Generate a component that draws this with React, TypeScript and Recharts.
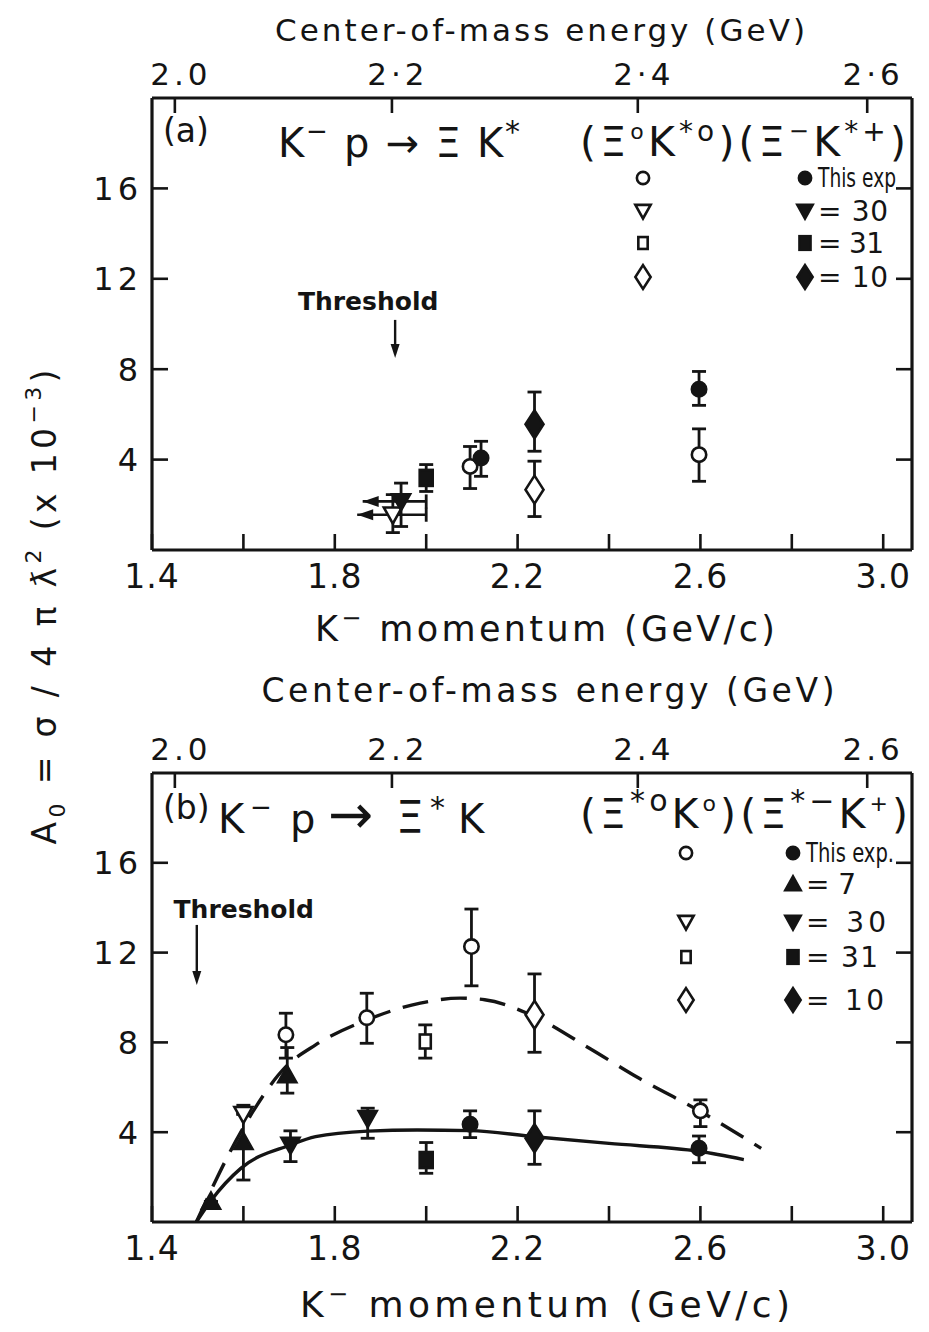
import React from 'react'
import {
  ComposedChart,
  Scatter,
  Line,
  XAxis,
  YAxis,
  ErrorBar,
  ReferenceDot,
  ReferenceLine,
} from 'recharts'

const FONT = '"DejaVu Sans", Verdana, sans-serif'
const INK = '#141414'

// K- beam momentum axis (GeV/c)
const momentumTicks = [1.4, 1.6, 1.8, 2.0, 2.2, 2.4, 2.6, 2.8, 3.0]
const momentumLabelled = [1.4, 1.8, 2.2, 2.6, 3.0]
const momentumDomain = [1.4, 3.063]

// A0 axis, in units of 1e-3
const ampTicks = [4, 8, 12, 16]
const ampDomain = [0, 20]

// centre-of-mass energy scale along the top, placed at the matching momentum
const energyTickMomenta = [1.45, 1.925, 2.463, 2.965]
const energyLabelsA = ['2.0', '2·2', '2·4', '2·6']
const energyLabelsB = ['2.0', '2.2', '2.4', '2.6']

type Pt = { p: number; a: number; lo?: number; hi?: number }
type Kind = 'circle' | 'down' | 'up' | 'square' | 'diamond'

// ---- (a) K- p -> Xi K* ----
// open symbols: Xi0 K*0, filled symbols: Xi- K*+
const aXi0ThisExp: Pt[] = [
  { p: 2.096, a: 3.7, lo: 2.72, hi: 4.58 },
  { p: 2.597, a: 4.22, lo: 3.04, hi: 5.36 },
]
const aXi0Ref30: Pt[] = [{ p: 1.927, a: 1.56, lo: 0.77, hi: 2.45 }]
const aXi0Ref10: Pt[] = [{ p: 2.237, a: 2.67, lo: 1.48, hi: 3.93 }]
const aXimThisExp: Pt[] = [
  { p: 2.12, a: 4.07, lo: 3.26, hi: 4.81 },
  { p: 2.597, a: 7.11, lo: 6.4, hi: 7.9 },
]
const aXimRef30: Pt[] = [{ p: 1.945, a: 2.15, lo: 1.04, hi: 2.96 }]
const aXimRef31: Pt[] = [{ p: 2.0, a: 3.19, lo: 2.59, hi: 3.78 }]
const aXimRef10: Pt[] = [{ p: 2.237, a: 5.56, lo: 4.37, hi: 6.99 }]
// momentum spread of the ref. 30 points (arrow = open towards low momentum)
const aRef30Spread = [
  { a: 2.15, from: 1.861, to: 2.0 },
  { a: 1.56, from: 1.849, to: 2.0 },
]
const aThreshold = { p: 1.932, a: 8.5 }

// ---- (b) K- p -> Xi* K ----
// open symbols: Xi*0 K0, filled symbols: Xi*- K+
const bXi0ThisExp: Pt[] = [
  { p: 1.693, a: 8.34, lo: 7.3, hi: 9.3 },
  { p: 1.87, a: 9.1, lo: 7.96, hi: 10.19 },
  { p: 2.099, a: 12.27, lo: 10.52, hi: 13.94 },
  { p: 2.6, a: 4.95, lo: 4.25, hi: 5.44 },
]
const bXi0Ref30: Pt[] = [{ p: 1.6, a: 4.8 }]
const bXi0Ref31: Pt[] = [{ p: 1.998, a: 8.04, lo: 7.3, hi: 8.78 }]
const bXi0Ref10: Pt[] = [{ p: 2.237, a: 9.23, lo: 7.56, hi: 11.05 }]
const bXimThisExp: Pt[] = [
  { p: 2.096, a: 4.35, lo: 3.76, hi: 4.95 },
  { p: 2.597, a: 3.28, lo: 2.64, hi: 3.83 },
]
const bXimRef7: Pt[] = [
  { p: 1.529, a: 0.91 },
  { p: 1.6, a: 3.58, lo: 1.87, hi: 5.2 },
  { p: 1.696, a: 6.55, lo: 5.74, hi: 7.77 },
]
const bXimRef30: Pt[] = [
  { p: 1.703, a: 3.43, lo: 2.69, hi: 4.06 },
  { p: 1.872, a: 4.62, lo: 3.73, hi: 5.07 },
]
const bXimRef31: Pt[] = [{ p: 2.0, a: 2.76, lo: 2.17, hi: 3.54 }]
const bXimRef10: Pt[] = [{ p: 2.237, a: 3.73, lo: 2.57, hi: 4.95 }]
// model curves
const bSolidCurve = [
  { p: 1.497, a: 0 },
  { p: 1.529, a: 0.95 },
  { p: 1.595, a: 2.4 },
  { p: 1.703, a: 3.43 },
  { p: 1.758, a: 3.8 },
  { p: 1.872, a: 4.05 },
  { p: 1.98, a: 4.1 },
  { p: 2.096, a: 4.07 },
  { p: 2.237, a: 3.8 },
  { p: 2.4, a: 3.5 },
  { p: 2.597, a: 3.15 },
  { p: 2.695, a: 2.78 },
]
const bDashedCurve = [
  { p: 1.497, a: 0 },
  { p: 1.595, a: 4.03 },
  { p: 1.693, a: 6.92 },
  { p: 1.758, a: 7.89 },
  { p: 1.87, a: 9.0 },
  { p: 1.987, a: 9.75 },
  { p: 2.074, a: 9.97 },
  { p: 2.128, a: 9.9 },
  { p: 2.237, a: 9.15 },
  { p: 2.357, a: 7.74 },
  { p: 2.466, a: 6.4 },
  { p: 2.6, a: 4.92 },
  { p: 2.733, a: 3.28 },
]
const bThreshold = { p: 1.498, a: 10.56 }

const withErr = (pts: Pt[]) =>
  pts.map((d) => ({
    ...d,
    err: [d.lo != null ? d.a - d.lo : 0, d.hi != null ? d.hi - d.a : 0],
  }))

const Marker = ({ cx, cy, kind, filled, s = 1 }: any) => {
  if (cx == null || cy == null) return null
  const fill = filled ? INK : '#fff'
  const st = { fill, stroke: INK, strokeWidth: 2.6 }
  switch (kind as Kind) {
    case 'circle':
      return <circle cx={cx} cy={cy} r={7.2 * s} {...st} />
    case 'down': {
      const w = 9 * s
      const h = 16 * s
      return <polygon points={`${cx - w},${cy - h * 0.45} ${cx + w},${cy - h * 0.45} ${cx},${cy + h * 0.55}`} {...st} />
    }
    case 'up': {
      const w = 9 * s
      const h = 16 * s
      return <polygon points={`${cx - w},${cy + h * 0.45} ${cx + w},${cy + h * 0.45} ${cx},${cy - h * 0.55}`} {...st} />
    }
    case 'square':
      return filled ? (
        <rect x={cx - 6.5 * s} y={cy - 8 * s} width={13 * s} height={16 * s} {...st} />
      ) : (
        <rect x={cx - 5.5 * s} y={cy - 7 * s} width={11 * s} height={14 * s} {...st} />
      )
    case 'diamond': {
      const w = 9 * s
      const h = 14 * s
      return <polygon points={`${cx},${cy - h} ${cx + w},${cy} ${cx},${cy + h} ${cx - w},${cy}`} {...st} />
    }
  }
  return null
}

const series = (data: Pt[], kind: Kind, filled: boolean, key: string, xAxisId: string | number = 0) => (
  <Scatter
    key={key}
    xAxisId={xAxisId}
    data={withErr(data)}
    dataKey="a"
    isAnimationActive={false}
    shape={(p: any) => <Marker cx={p.cx} cy={p.cy} kind={kind} filled={filled} />}
  >
    <ErrorBar dataKey="err" direction="y" width={7} stroke={INK} strokeWidth={2.8} />
  </Scatter>
)

// ticks point into the frame, labels sit outside
const BottomTick = ({ x, y, payload }: any) => {
  const v = payload.value
  const show = momentumLabelled.some((m) => Math.abs(m - v) < 1e-6)
  return (
    <g>
      <line x1={x} y1={y} x2={x} y2={y - 16} stroke={INK} strokeWidth={2.6} />
      {show && (
        <text x={x} y={y + 38} textAnchor="middle" fontSize={33} fontFamily={FONT} fill={INK} letterSpacing={1}>
          {v.toFixed(1)}
        </text>
      )}
    </g>
  )
}

const TopTick = ({ x, y, index, labels }: any) => (
  <g>
    <line x1={x} y1={y} x2={x} y2={y + 15} stroke={INK} strokeWidth={2.6} />
    <text x={x + 6} y={y - 13} textAnchor="middle" fontSize={31} fontFamily={FONT} fill={INK} letterSpacing={4}>
      {labels[index]}
    </text>
  </g>
)

const LeftTick = ({ x, y, payload }: any) => (
  <g>
    <line x1={x} y1={y} x2={x + 16} y2={y} stroke={INK} strokeWidth={2.6} />
    <text x={x - 10} y={y} dy="0.36em" textAnchor="end" fontSize={32} fontFamily={FONT} fill={INK} letterSpacing={4}>
      {payload.value}
    </text>
  </g>
)

const RightTick = ({ x, y }: any) => (
  <line x1={x} y1={y} x2={x - 16} y2={y} stroke={INK} strokeWidth={2.6} />
)

const Threshold = ({ cx, cy, len, textDx, textUp }: any) => (
  <g>
    <line x1={cx} y1={cy - len} x2={cx} y2={cy - 10} stroke={INK} strokeWidth={2.4} />
    <polygon points={`${cx - 4.5},${cy - 14} ${cx + 4.5},${cy - 14} ${cx},${cy}`} fill={INK} />
    <text x={cx + textDx} y={cy - textUp} textAnchor="middle" fontSize={25} fontWeight={600} fontFamily={FONT} fill={INK}>
      Threshold
    </text>
  </g>
)

const axes = (energyLabels: string[]) => (
  <>
    <XAxis
      dataKey="p"
      type="number"
      domain={momentumDomain}
      allowDataOverflow
      ticks={momentumTicks}
      interval={0}
      height={30}
      tickSize={0}
      tickMargin={0}
      tickLine={false}
      axisLine={{ stroke: INK, strokeWidth: 3.2 }}
      tick={<BottomTick />}
    />
    <XAxis
      xAxisId="top"
      orientation="top"
      dataKey="p"
      type="number"
      domain={momentumDomain}
      allowDataOverflow
      ticks={energyTickMomenta}
      interval={0}
      height={30}
      tickSize={0}
      tickMargin={0}
      tickLine={false}
      axisLine={{ stroke: INK, strokeWidth: 3.2 }}
      tick={<TopTick labels={energyLabels} />}
    />
    <YAxis
      dataKey="a"
      type="number"
      domain={ampDomain}
      allowDataOverflow
      ticks={ampTicks}
      interval={0}
      width={60}
      tickSize={0}
      tickMargin={0}
      tickLine={false}
      axisLine={{ stroke: INK, strokeWidth: 3.2 }}
      tick={<LeftTick />}
    />
    <YAxis
      yAxisId="r"
      orientation="right"
      type="number"
      domain={ampDomain}
      allowDataOverflow
      ticks={ampTicks}
      interval={0}
      width={8}
      tickSize={0}
      tickMargin={0}
      tickLine={false}
      axisLine={{ stroke: INK, strokeWidth: 3.2 }}
      tick={<RightTick />}
    />
  </>
)

const PanelA = () => (
  <ComposedChart width={913} height={660} margin={{ top: 60, right: 1, bottom: 88, left: 84 }}>
    {axes(energyLabelsA)}
    <ReferenceDot
      x={aThreshold.p}
      y={aThreshold.a}
      ifOverflow="visible"
      shape={(p: any) => <Threshold cx={p.cx} cy={p.cy} len={38} textDx={-27} textUp={48} />}
    />
    {aRef30Spread.map((s, i) => (
      <ReferenceLine
        key={`sl${i}`}
        segment={[
          { x: s.from, y: s.a },
          { x: s.to, y: s.a },
        ]}
        stroke={INK}
        strokeWidth={2.6}
      />
    ))}
    {aRef30Spread.map((s, i) => (
      <ReferenceDot
        key={`sh${i}`}
        x={s.from}
        y={s.a}
        shape={(p: any) => (
          <polygon points={`${p.cx},${p.cy} ${p.cx + 16},${p.cy - 5.5} ${p.cx + 16},${p.cy + 5.5}`} fill={INK} />
        )}
      />
    ))}
    {aRef30Spread.map((s, i) => (
      <ReferenceDot
        key={`sc${i}`}
        x={s.to}
        y={s.a}
        shape={(p: any) => <line x1={p.cx} y1={p.cy - 7} x2={p.cx} y2={p.cy + 7} stroke={INK} strokeWidth={2.8} />}
      />
    ))}
    {series(aXi0Ref30, 'down', false, 'a1')}
    {series(aXimRef30, 'down', true, 'a2')}
    {series(aXimRef31, 'square', true, 'a3')}
    {series(aXi0ThisExp, 'circle', false, 'a4')}
    {series(aXimThisExp, 'circle', true, 'a5')}
    {series(aXimRef10, 'diamond', true, 'a6')}
    {series(aXi0Ref10, 'diamond', false, 'a7', 'top')}
  </ComposedChart>
)

const PanelB = () => (
  <ComposedChart width={913} height={640} margin={{ top: 65, right: 1, bottom: 66, left: 84 }}>
    {axes(energyLabelsB)}
    <ReferenceDot
      x={bThreshold.p}
      y={bThreshold.a}
      ifOverflow="visible"
      shape={(p: any) => <Threshold cx={p.cx} cy={p.cy} len={60} textDx={47} textUp={67} />}
    />
    <Line data={bDashedCurve} dataKey="a" type="monotone" dot={false} stroke={INK} strokeWidth={3.4} strokeDasharray="26 13" isAnimationActive={false} />
    <Line data={bSolidCurve} dataKey="a" type="monotone" dot={false} stroke={INK} strokeWidth={3.4} isAnimationActive={false} />
    {series(bXi0Ref30, 'down', false, 'b0')}
    {series(bXimRef7, 'up', true, 'b1')}
    {series(bXimRef30, 'down', true, 'b2')}
    {series(bXimRef31, 'square', true, 'b3')}
    {series(bXi0Ref31, 'square', false, 'b4')}
    {series(bXi0ThisExp, 'circle', false, 'b5')}
    {series(bXimThisExp, 'circle', true, 'b6')}
    {series(bXi0Ref10, 'diamond', false, 'b7', 'top')}
    {series(bXimRef10, 'diamond', true, 'b8')}
  </ComposedChart>
)

// legend rows: [open symbol or null, filled symbol, label, label width]
const legendRowsA: [Kind | null, Kind, string, number][] = [
  ['circle', 'circle', 'This exp', 78],
  ['down', 'down', '= 30', 70],
  ['square', 'square', '= 31', 66],
  ['diamond', 'diamond', '= 10', 70],
]
const legendRowsB: [Kind | null, Kind, string, number][] = [
  ['circle', 'circle', 'This exp.', 88],
  [null, 'up', '= 7', 50],
  ['down', 'down', '= 30', 80],
  ['square', 'square', '= 31', 72],
  ['diamond', 'diamond', '= 10', 78],
]

const LegendBlock = ({ rows, ys, xOpen, xFilled }: any) => (
  <g>
    {rows.map((r: any, i: number) => (
      <g key={i}>
        {r[0] && <Marker cx={xOpen} cy={ys[i]} kind={r[0]} filled={false} s={0.85} />}
        <Marker cx={xFilled} cy={ys[i]} kind={r[1]} filled s={0.85} />
        <text
          x={xFilled + 13}
          y={ys[i]}
          dy="0.36em"
          fontSize={r[2].startsWith('=') ? 28 : 26}
          fontFamily={FONT}
          fill={INK}
          textLength={r[3]}
          lengthAdjust={r[2].startsWith('=') ? 'spacing' : 'spacingAndGlyphs'}
        >
          {r[2]}
        </text>
      </g>
    ))}
  </g>
)

const Annotations = () => (
  <svg
    width={913}
    height={1316}
    style={{ position: 'absolute', left: 0, top: 0, pointerEvents: 'none', overflow: 'visible' }}
  >
    <g transform="translate(-8 -8)" fontFamily={FONT} fill={INK} style={{ whiteSpace: 'pre' }}>
      {/* axis titles */}
      <text x={540} y={41} textAnchor="middle" fontSize={31} textLength={530} lengthAdjust="spacing">
        Center-of-mass  energy  (GeV)
      </text>
      <text x={545} y={641} textAnchor="middle" fontSize={35} textLength={460} lengthAdjust="spacing">
        K<tspan dy={-15} fontSize={24}>−</tspan>
        <tspan dy={15}>  momentum  (GeV/c)</tspan>
      </text>
      <text x={548} y={702} textAnchor="middle" fontSize={33} textLength={573} lengthAdjust="spacing">
        Center-of-mass  energy  (GeV)
      </text>
      <text x={545} y={1317} textAnchor="middle" fontSize={36} textLength={490} lengthAdjust="spacing">
        K<tspan dy={-15} fontSize={24}>−</tspan>
        <tspan dy={15}>  momentum   (GeV/c)</tspan>
      </text>
      <text
        x={56}
        y={607}
        transform="rotate(-90 56 607)"
        textAnchor="middle"
        fontSize={33}
        textLength={475}
        lengthAdjust="spacing"
      >
        A<tspan dy={9} fontSize={22}>0</tspan>
        <tspan dy={-9}> =  σ  /  4  π  ƛ</tspan>
        <tspan dy={-15} fontSize={22}>2</tspan>
        <tspan dy={15}>    (x 10</tspan>
        <tspan dy={-15} fontSize={22}>−3</tspan>
        <tspan dy={15}>)</tspan>
      </text>

      {/* panel (a) reaction */}
      <text x={163} y={142} fontSize={33}>(a)</text>
      <text x={278} y={157} fontSize={40} textLength={242} lengthAdjust="spacing">
        K<tspan dy={-17} fontSize={26}>−</tspan>
        <tspan dy={17}> p → Ξ K</tspan>
        <tspan dy={-15} fontSize={30}>*</tspan>
      </text>
      <text x={580} y={156} fontSize={41} textLength={326} lengthAdjust="spacing">
        (Ξ<tspan dy={-17} fontSize={22}>o</tspan>
        <tspan dy={17}>K</tspan>
        <tspan dy={-15} fontSize={28}>*o</tspan>
        <tspan dy={15}>)(Ξ</tspan>
        <tspan dy={-17} fontSize={24}>−</tspan>
        <tspan dy={17}>K</tspan>
        <tspan dy={-15} fontSize={28}>*+</tspan>
        <tspan dy={15}>)</tspan>
      </text>
      <LegendBlock rows={legendRowsA} ys={[178, 211, 243, 277]} xOpen={643} xFilled={805} />

      {/* panel (b) reaction */}
      <text x={163} y={819} fontSize={33}>(b)</text>
      <text y={833} fontSize={40}>
        <tspan x={218}>K</tspan>
        <tspan x={250} dy={-17} fontSize={26}>−</tspan>
        <tspan x={290} dy={17}>p</tspan>
        <tspan x={328} fontSize={54}>→</tspan>
        <tspan x={396} fontSize={44}>Ξ</tspan>
        <tspan x={430} dy={-15} fontSize={30}>*</tspan>
        <tspan x={458} dy={15}>K</tspan>
      </text>
      <text x={580} y={828} fontSize={41} textLength={328} lengthAdjust="spacing">
        (Ξ<tspan dy={-17} fontSize={30}>*o</tspan>
        <tspan dy={17}>K</tspan>
        <tspan dy={-17} fontSize={22}>o</tspan>
        <tspan dy={17}>)(Ξ</tspan>
        <tspan dy={-17} fontSize={30}>*−</tspan>
        <tspan dy={17}>K</tspan>
        <tspan dy={-17} fontSize={22}>+</tspan>
        <tspan dy={17}>)</tspan>
      </text>
      <LegendBlock rows={legendRowsB} ys={[853, 884, 922, 957, 1000]} xOpen={686} xFilled={793} />
    </g>
  </svg>
)

export default function App() {
  return (
    <div style={{ position: 'relative', width: 913, height: 1316, background: '#fff' }}>
      <div style={{ position: 'absolute', left: 0, top: 0 }}>
        <PanelA />
      </div>
      <div style={{ position: 'absolute', left: 0, top: 670 }}>
        <PanelB />
      </div>
      <Annotations />
    </div>
  )
}
